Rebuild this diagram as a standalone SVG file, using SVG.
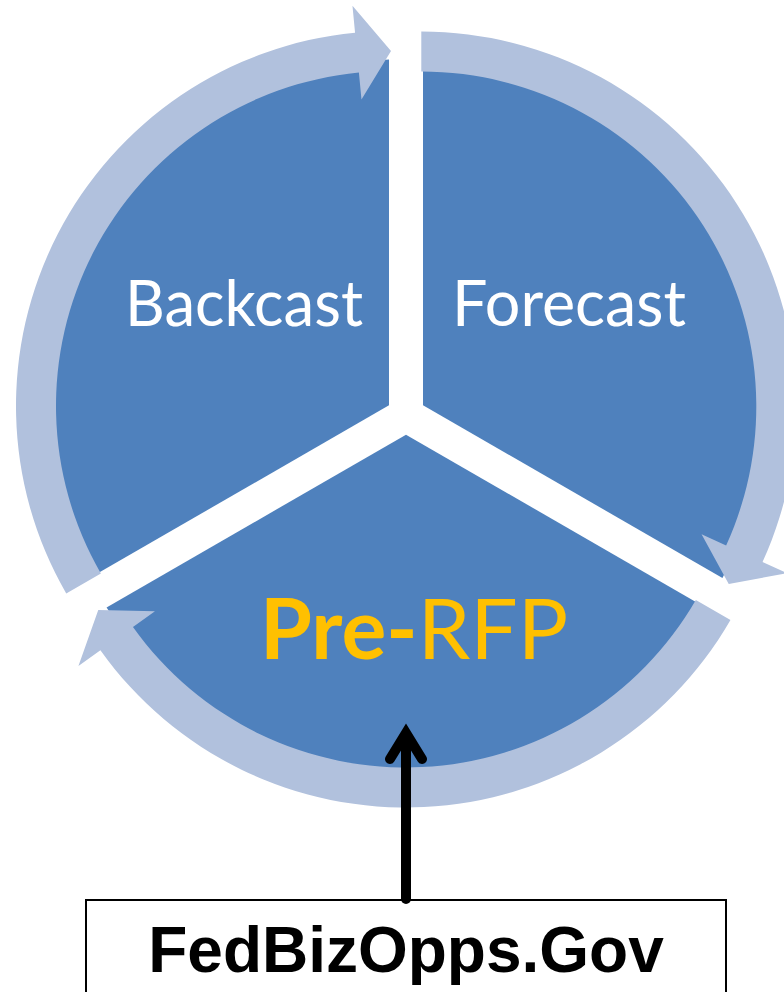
<svg xmlns="http://www.w3.org/2000/svg" xmlns:xlink="http://www.w3.org/1999/xlink" width="784" height="992" viewBox="0 0 784 992">
<style>
.wedge{fill:#4F81BD;}
.cyc{fill:#B1C1DD;}
.lbl{font-family:Lato,"Open Sans","Noto Sans",sans-serif;fill:#FFFFFF;font-size:64px;}
.pre{font-family:Lato,"Open Sans","Noto Sans",sans-serif;fill:#FFC000;font-size:84px;}
.box{fill:#FFFFFF;stroke:#000000;stroke-width:2;}
.boxtxt{font-family:"Liberation Sans",Arial,sans-serif;font-weight:bold;font-size:64px;fill:#000000;}
.conn{fill:none;stroke:#000000;stroke-width:10;stroke-linecap:round;stroke-linejoin:miter;}
</style>
<defs>
<path id="cycArrow" d="M66.24,593.5 A375,375 0 0 1 355.06,32.73 L352.47,5.85 L391,51 L361.48,99.42 L358.89,72.54 A335,335 0 0 0 100.88,573.5 Z"/>
</defs>
<rect width="784" height="992" fill="#FFFFFF"/>
<g id="backcast">
<path class="wedge" d="M389,405.19 L389,59.41 A356,356 0 0 0 89.55,578.08 Z"/>
<text class="lbl" x="125" y="326" textLength="238" lengthAdjust="spacingAndGlyphs">Backcast</text>
</g>
<g id="forecast">
<path class="wedge" d="M423,405.19 L722.45,578.08 A356,356 0 0 0 423,59.41 Z"/>
<text class="lbl" x="452" y="326" textLength="234" lengthAdjust="spacingAndGlyphs">Forecast</text>
</g>
<g id="prerfp">
<path class="wedge" d="M406,434.63 L705.45,607.52 A356,356 0 0 1 106.55,607.52 Z"/>
<text class="pre" x="260" y="659"><tspan font-weight="bold">Pre-</tspan><tspan>RFP</tspan></text>
</g>
<g id="fedbizopps">
<rect class="box" x="86" y="900" width="640" height="110"/>
<text class="boxtxt" x="406" y="972" text-anchor="middle">FedBizOpps.Gov</text>
</g>
<g id="connectors">
<use class="cyc" href="#cycArrow" xlink:href="#cycArrow"/>
<use class="cyc" href="#cycArrow" xlink:href="#cycArrow" transform="rotate(120 406 415)"/>
<use class="cyc" href="#cycArrow" xlink:href="#cycArrow" transform="rotate(240 406 415)"/>
<path class="conn" d="M406,899 L406,736"/>
<path class="conn" d="M390,759 L406,733 L422,759"/>
</g>
</svg>
